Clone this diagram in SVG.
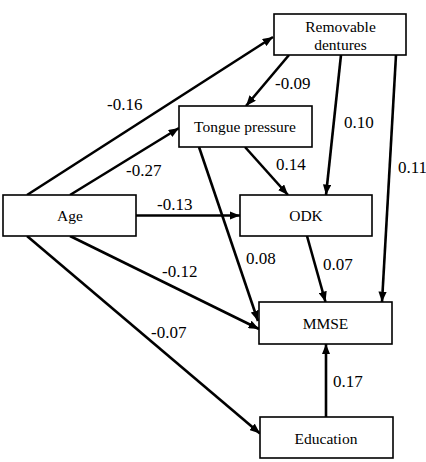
<svg xmlns="http://www.w3.org/2000/svg" width="426" height="462" viewBox="0 0 426 462">
<style>
.box{fill:#fff;stroke:#000;stroke-width:1.6}
.lbl{font-family:'Liberation Serif','Tinos','DejaVu Serif',serif;font-size:15.5px;text-anchor:middle;fill:#000}
.num{font-family:'Liberation Serif','Tinos','DejaVu Serif',serif;font-size:17px;fill:#000}
.arr{stroke:#000;stroke-width:2.6;fill:none;marker-end:url(#ah)}
</style>
<defs>
<marker id="ah" viewBox="0 0 10 8" refX="10" refY="4" markerWidth="4" markerHeight="3.2" markerUnits="strokeWidth" orient="auto">
<path d="M0,0 L10,4 L0,8 z" fill="#000"/>
</marker>
</defs>
<rect width="426" height="462" fill="#fff"/>
<g id="connectors">
<line class="arr" x1="27" y1="195" x2="273" y2="37"/>
<line class="arr" x1="70" y1="195" x2="179" y2="128"/>
<line class="arr" x1="136" y1="215.5" x2="240" y2="215.5"/>
<line class="arr" x1="70" y1="236" x2="259" y2="329"/>
<line class="arr" x1="27" y1="236" x2="260" y2="433.5"/>
<line class="arr" x1="289" y1="55" x2="246" y2="106"/>
<line class="arr" x1="341" y1="55" x2="326" y2="195"/>
<line class="arr" x1="396" y1="55" x2="382" y2="302"/>
<line class="arr" x1="245" y1="147" x2="288" y2="195"/>
<line class="arr" x1="199" y1="147" x2="258" y2="321"/>
<line class="arr" x1="307" y1="236" x2="325.5" y2="302"/>
<line class="arr" x1="326" y1="417" x2="326" y2="344"/>
</g>
<g id="labels">
<text class="num" x="107" y="110" font-family="Liberation Serif, serif">-0.16</text>
<text class="num" x="126" y="176">-0.27</text>
<text class="num" x="157" y="210">-0.13</text>
<text class="num" x="275" y="89">-0.09</text>
<text class="num" x="344" y="128">0.10</text>
<text class="num" x="276" y="170">0.14</text>
<text class="num" x="398" y="173">0.11</text>
<text class="num" x="162" y="277">-0.12</text>
<text class="num" x="151" y="338">-0.07</text>
<text class="num" x="246" y="264">0.08</text>
<text class="num" x="323" y="270">0.07</text>
<text class="num" x="333" y="387">0.17</text>
</g>
<g id="removable_dentures">
<rect class="box" x="274" y="14" width="132" height="41"/>
<text class="lbl" x="340.5" y="31.5">Removable</text>
<text class="lbl" x="340.5" y="50">dentures</text>
</g>
<g id="tongue_pressure">
<rect class="box" x="179" y="106" width="133" height="41"/>
<text class="lbl" x="245" y="132">Tongue pressure</text>
</g>
<g id="age">
<rect class="box" x="3" y="195" width="133" height="41"/>
<text class="lbl" x="70" y="221">Age</text>
</g>
<g id="odk">
<rect class="box" x="240" y="195" width="132" height="41"/>
<text class="lbl" x="306" y="221">ODK</text>
</g>
<g id="mmse">
<rect class="box" x="259" y="302" width="133" height="42"/>
<text class="lbl" x="325.5" y="328.5">MMSE</text>
</g>
<g id="education">
<rect class="box" x="260" y="417" width="133" height="41"/>
<text class="lbl" x="326" y="443.5">Education</text>
</g>
</svg>
